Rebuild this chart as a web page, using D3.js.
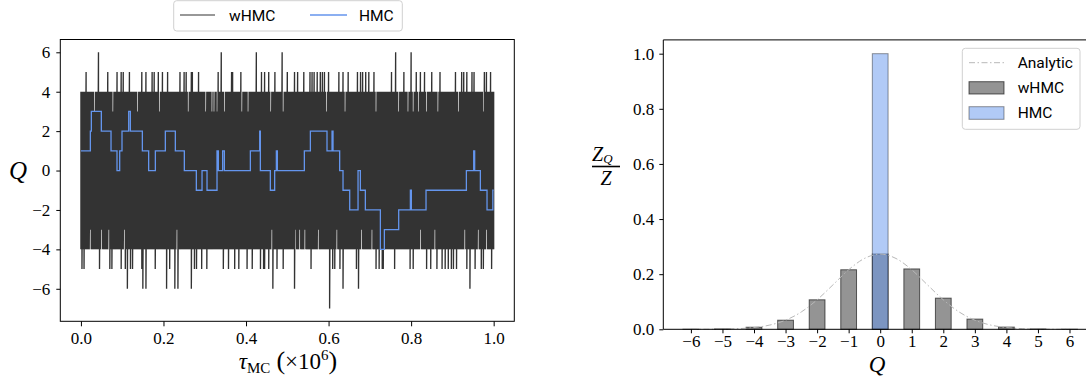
<!DOCTYPE html>
<html><head><meta charset="utf-8">
<script src="https://cdn.jsdelivr.net/npm/d3@7"></script>
<style>body{margin:0;background:#fff}svg{display:block}</style>
</head><body>
<svg id="c" width="1086" height="385"></svg>
<script>
// ---------- DATA ----------
// wHMC trace: band edges are Q=+4 / -4 except where listed
const wTopSpike5 = [0.0116,0.064,0.0867,0.0964,0.1028,0.1166,0.1472,0.1577,0.1731,0.1771,0.1876,0.1973,0.2102,0.2401,0.2498,0.2539,0.2668,0.2708,0.2845,0.333,0.3653,0.3686,0.3871,0.438,0.4445,0.4542,0.4703,0.5002,0.5164,0.5244,0.539,0.5551,0.5592,0.5656,0.5713,0.5794,0.585,0.589,0.6012,0.6262,0.6359,0.6464,0.6706,0.6763,0.6819,0.69,0.6981,0.711,0.7514,0.7813,0.8136,0.8217,0.8322,0.85,0.8701,0.9065,0.9226,0.9283,0.9347,0.9469,0.9525,0.9767,0.9832,0.9913];
const wTopSpike6 = [0.0414,0.3411,0.4259,0.4865,0.7627,0.7998];
const wTopGap3 = [0.0317,0.077,0.1376,0.19,0.2603,0.3031,0.3169,0.3233,0.3298,0.3475,0.3912,0.4057,0.4606,0.4905,0.5406,0.5955,0.6399,0.7143,0.7692,0.7934,0.8055,0.8176,0.8378,0.8661,0.9145,0.9751];
const wBotSpike5 = [0.0019,0.0083,0.0447,0.0705,0.0746,0.0964,0.1069,0.119,0.1246,0.1473,0.1796,0.2143,0.2361,0.2749,0.2805,0.2926,0.3047,0.3451,0.3572,0.3734,0.3815,0.4033,0.4138,0.434,0.442,0.4461,0.4542,0.4744,0.4905,0.5575,0.61,0.6157,0.6278,0.6682,0.7143,0.7231,0.7288,0.7328,0.7611,0.7974,0.8055,0.8378,0.8475,0.862,0.8742,0.8822,0.8903,0.8984,0.9024,0.9105,0.9347,0.9549,0.9711,0.9751,0.9953];
const wBotSpike6 = [0.1133,0.1497,0.1569,0.2078,0.228,0.2361,0.2685,0.4662,0.5171,0.6344,0.6722,0.9428];
const wBotSpike7 = [0.6019];
const wBotGap3 = [0.022,0.0503,0.0665,0.1052,0.232,0.3451,0.4622,0.4744,0.4905,0.5188,0.5309,0.5414,0.5753,0.6197,0.6803,0.7062,0.8217,0.8564,0.8984,0.9307,0.963,0.9832];
const wBandTop = 4, wBandBot = -4;

// HMC trace: step changes (tau in units of 1e6, Q from that tau on)
const hmcTau = [0,0.0228,0.0252,0.0494,0.0729,0.0874,0.0939,0.0995,0.1157,0.1197,0.1488,0.1641,0.1803,0.2045,0.2287,0.2505,0.2796,0.2934,0.3055,0.3297,0.3329,0.3434,0.3475,0.4105,0.4331,0.4347,0.4589,0.4694,0.4735,0.4759,0.5413,0.5559,0.5962,0.6084,0.6108,0.6269,0.635,0.6512,0.6714,0.677,0.6891,0.7255,0.7352,0.7699,0.7982,0.8006,0.8361,0.9339,0.9516,0.954,0.9678,0.9839,0.998,1.0];
const hmcQ   = [1,2,3,2,1,0,1,2,3,2,1,0,1,2,1,0,-1,0,-1,1,0,1,0,1,2,0,-1,0,1,0,1,2,1,2,1,0,-1,-2,0,-1,-2,-4,-3,-2,-1,-2,-1,0,1,0,-1,-2,-1,-1];

// Histogram
const qCats  = [-6,-5,-4,-3,-2,-1,0,1,2,3,4,5,6];
const zWHMC  = [0.0002,0.0012,0.0075,0.033,0.107,0.216,0.273,0.219,0.113,0.037,0.008,0.0012,0.0002];
const zHMC   = [0,0,0,0,0,0,1.0,0,0,0,0,0,0];
const anQ    = [-6,-5.5,-5,-4.5,-4,-3.5,-3,-2.5,-2,-1.5,-1,-0.5,0,0.5,1,1.5,2,2.5,3,3.5,4,4.5,5,5.5,6];
const anZ    = [0.0001,0.0002,0.0008,0.0024,0.0064,0.0154,0.033,0.063,0.107,0.161,0.216,0.257,0.273,0.257,0.216,0.161,0.107,0.063,0.033,0.0154,0.0064,0.0024,0.0008,0.0002,0.0001];

// Ticks
const leftYTicks = [-6,-4,-2,0,2,4,6];
const leftXTicks = [0,0.2,0.4,0.6,0.8,1.0];
const rightYTicks = [0,0.2,0.4,0.6,0.8,1.0];
const rightXTicks = qCats;

// ---------- DRAW ----------
const svg = d3.select("#c");
const serif = "'Liberation Serif','DejaVu Serif',serif";
const sans = "Roboto,'Liberation Sans',sans-serif";
const minus = d => d < 0 ? "\u2212" + (-d) : String(d);

// Left panel
const xL = d3.scaleLinear().domain([-0.05,1.05]).range([60.3,514.3]);
const yL = d3.scaleLinear().domain([-7.65,6.65]).range([321.3,39.5]);

svg.append("clipPath").attr("id","clipL").append("rect")
  .attr("x",xL.range()[0]).attr("y",yL.range()[1])
  .attr("width",xL.range()[1]-xL.range()[0]).attr("height",yL.range()[0]-yL.range()[1]);

const N = 400;
const topArr = Array(N+1).fill(wBandTop), botArr = Array(N+1).fill(wBandBot);
const bi = t => Math.round(t*N);
wTopGap3.forEach(t => topArr[bi(t)] = 3);
wTopSpike5.forEach(t => topArr[bi(t)] = 5);
wTopSpike6.forEach(t => topArr[bi(t)] = 6);
wBotGap3.forEach(t => botArr[bi(t)] = -3);
wBotSpike5.forEach(t => botArr[bi(t)] = -5);
wBotSpike6.forEach(t => botArr[bi(t)] = -6);
wBotSpike7.forEach(t => botArr[bi(t)] = -7);
const wPts = [];
for (let i = 0; i <= N; i++) { wPts.push([i/N, topArr[i]], [i/N, botArr[i]]); }

const gL = svg.append("g").attr("clip-path","url(#clipL)");
gL.append("path").datum(wPts)
  .attr("d", d3.line().x(d=>xL(d[0])).y(d=>yL(d[1])))
  .attr("fill","none").attr("stroke","#333333").attr("stroke-width",1.35);
gL.append("path").datum(hmcTau.map((t,i)=>[t,hmcQ[i]]))
  .attr("d", d3.line().curve(d3.curveStepAfter).x(d=>xL(d[0])).y(d=>yL(d[1])))
  .attr("fill","none").attr("stroke","#6495ED").attr("stroke-width",1.3);

// frame
svg.append("rect").attr("x",60.3).attr("y",39.5).attr("width",454).attr("height",281.8)
  .attr("fill","none").attr("stroke","#000").attr("stroke-width",1);

const axLy = svg.append("g").attr("transform","translate(60.3,0)")
  .call(d3.axisLeft(yL).tickValues(leftYTicks).tickFormat(minus).tickSize(4).tickPadding(6).tickSizeOuter(0));
const axLx = svg.append("g").attr("transform","translate(0,321.3)")
  .call(d3.axisBottom(xL).tickValues(leftXTicks).tickFormat(d3.format(".1f")).tickSize(5).tickPadding(6).tickSizeOuter(0));
[axLy,axLx].forEach(a=>{a.select(".domain").remove();a.selectAll("text").attr("font-family",serif).attr("font-size",17).attr("fill","#000");a.selectAll("line").attr("stroke","#000");});

// left labels
svg.append("text").attr("x",18).attr("y",179).attr("text-anchor","middle")
  .attr("font-family",serif).attr("font-style","italic").attr("font-size",25).text("Q");
const xlab = svg.append("text").attr("x",288).attr("y",369).attr("text-anchor","middle")
  .attr("font-family",serif).attr("font-size",23);
xlab.append("tspan").attr("font-style","italic").text("τ");
xlab.append("tspan").attr("font-size",15).attr("dy",4).text("MC");
xlab.append("tspan").attr("dy",-4).attr("dx",6).attr("font-size",26).text("(");
xlab.append("tspan").text("×10");
xlab.append("tspan").attr("font-size",15).attr("dy",-9).text("6");
xlab.append("tspan").attr("dy",9).attr("font-size",26).text(")");

// top legend
const lg = svg.append("g");
lg.append("rect").attr("x",173.7).attr("y",0.7).attr("width",228.6).attr("height",30.3).attr("rx",3)
  .attr("fill","#fff").attr("stroke","#d0d0d0");
lg.append("line").attr("x1",180).attr("x2",215).attr("y1",15).attr("y2",15).attr("stroke","#333").attr("stroke-width",1.2);
lg.append("text").attr("x",229).attr("y",20.5).attr("font-family",sans).attr("font-size",15.5).text("wHMC");
lg.append("line").attr("x1",310).attr("x2",347).attr("y1",15).attr("y2",15).attr("stroke","#6495ED").attr("stroke-width",1.3);
lg.append("text").attr("x",359).attr("y",20.5).attr("font-family",sans).attr("font-size",15.5).text("HMC");

// Right panel
const xR = d3.scaleLinear().domain([-6.875,6.875]).range([663.3,1097.1]);
const yR = d3.scaleLinear().domain([0,1.05]).range([329.3,39.9]);

const gR = svg.append("g");
gR.selectAll("rect.w").data(qCats).join("rect").attr("class","w")
  .attr("x",(q)=>xR(q-0.25)).attr("width",(q)=>xR(q+0.25)-xR(q-0.25))
  .attr("y",(q,i)=>yR(zWHMC[i])).attr("height",(q,i)=>yR(0)-yR(zWHMC[i]))
  .attr("fill","rgba(0,0,0,0.42)").attr("stroke","rgba(0,0,0,0.6)").attr("stroke-width",1);
gR.selectAll("rect.h").data(qCats).join("rect").attr("class","h")
  .attr("x",(q)=>xR(q-0.25)).attr("width",(q)=>xR(q+0.25)-xR(q-0.25))
  .attr("y",(q,i)=>yR(zHMC[i])).attr("height",(q,i)=>yR(0)-yR(zHMC[i]))
  .attr("fill","rgba(100,149,237,0.5)").attr("stroke","rgba(0,0,0,0.4)").attr("stroke-width",1)
  .attr("display",(q,i)=>zHMC[i]>0?null:"none");
gR.append("path").datum(anQ.map((q,i)=>[q,anZ[i]]))
  .attr("d", d3.line().curve(d3.curveMonotoneX).x(d=>xR(d[0])).y(d=>yR(d[1])))
  .attr("fill","none").attr("stroke","#b8b8b8").attr("stroke-width",1).attr("stroke-dasharray","6,2.5,1.5,2.5");

// spines
svg.append("line").attr("x1",663.3).attr("x2",663.3).attr("y1",39.9).attr("y2",329.3).attr("stroke","#000");
svg.append("line").attr("x1",663.3).attr("x2",1097).attr("y1",39.9).attr("y2",39.9).attr("stroke","#000");
svg.append("line").attr("x1",663.3).attr("x2",1097).attr("y1",329.3).attr("y2",329.3).attr("stroke","#000");

const axRy = svg.append("g").attr("transform","translate(663.3,0)")
  .call(d3.axisLeft(yR).tickValues(rightYTicks).tickFormat(d3.format(".1f")).tickSize(4).tickPadding(5).tickSizeOuter(0));
const axRx = svg.append("g").attr("transform","translate(0,329.3)")
  .call(d3.axisBottom(xR).tickValues(rightXTicks).tickFormat(minus).tickSize(4).tickPadding(2).tickSizeOuter(0));
[axRy,axRx].forEach(a=>{a.select(".domain").remove();a.selectAll("text").attr("font-family",serif).attr("font-size",17).attr("fill","#000");a.selectAll("line").attr("stroke","#000");});

// right labels
svg.append("text").attr("x",877).attr("y",372).attr("text-anchor","middle")
  .attr("font-family",serif).attr("font-style","italic").attr("font-size",23).text("Q");
const num = svg.append("text").attr("x",592).attr("y",161).attr("font-family",serif).attr("font-style","italic").attr("font-size",20);
num.append("tspan").text("Z");
num.append("tspan").attr("font-size",13).attr("dy",2).text("Q");
svg.append("line").attr("x1",592).attr("x2",620).attr("y1",166.5).attr("y2",166.5).attr("stroke","#000").attr("stroke-width",1.6);
svg.append("text").attr("x",606).attr("y",185).attr("text-anchor","middle").attr("font-family",serif).attr("font-style","italic").attr("font-size",20).text("Z");

// right legend
const rl = svg.append("g");
rl.append("rect").attr("x",962.3).attr("y",48.3).attr("width",117.7).attr("height",81).attr("rx",3)
  .attr("fill","rgba(255,255,255,0.8)").attr("stroke","#d0d0d0");
rl.append("line").attr("x1",969).attr("x2",1004).attr("y1",62.7).attr("y2",62.7)
  .attr("stroke","#b8b8b8").attr("stroke-dasharray","6,2.5,1.5,2.5");
rl.append("rect").attr("x",969).attr("y",81.7).attr("width",35).attr("height",12.3)
  .attr("fill","rgba(0,0,0,0.42)").attr("stroke","rgba(0,0,0,0.6)");
rl.append("rect").attr("x",969).attr("y",106.7).attr("width",35).attr("height",12.6)
  .attr("fill","rgba(100,149,237,0.5)").attr("stroke","rgba(0,0,0,0.4)");
[["Analytic",68],["wHMC",93],["HMC",118]].forEach(([t,y])=>
  rl.append("text").attr("x",1017.7).attr("y",y).attr("font-family",sans).attr("font-size",15.5).text(t));
</script>
</body></html>
